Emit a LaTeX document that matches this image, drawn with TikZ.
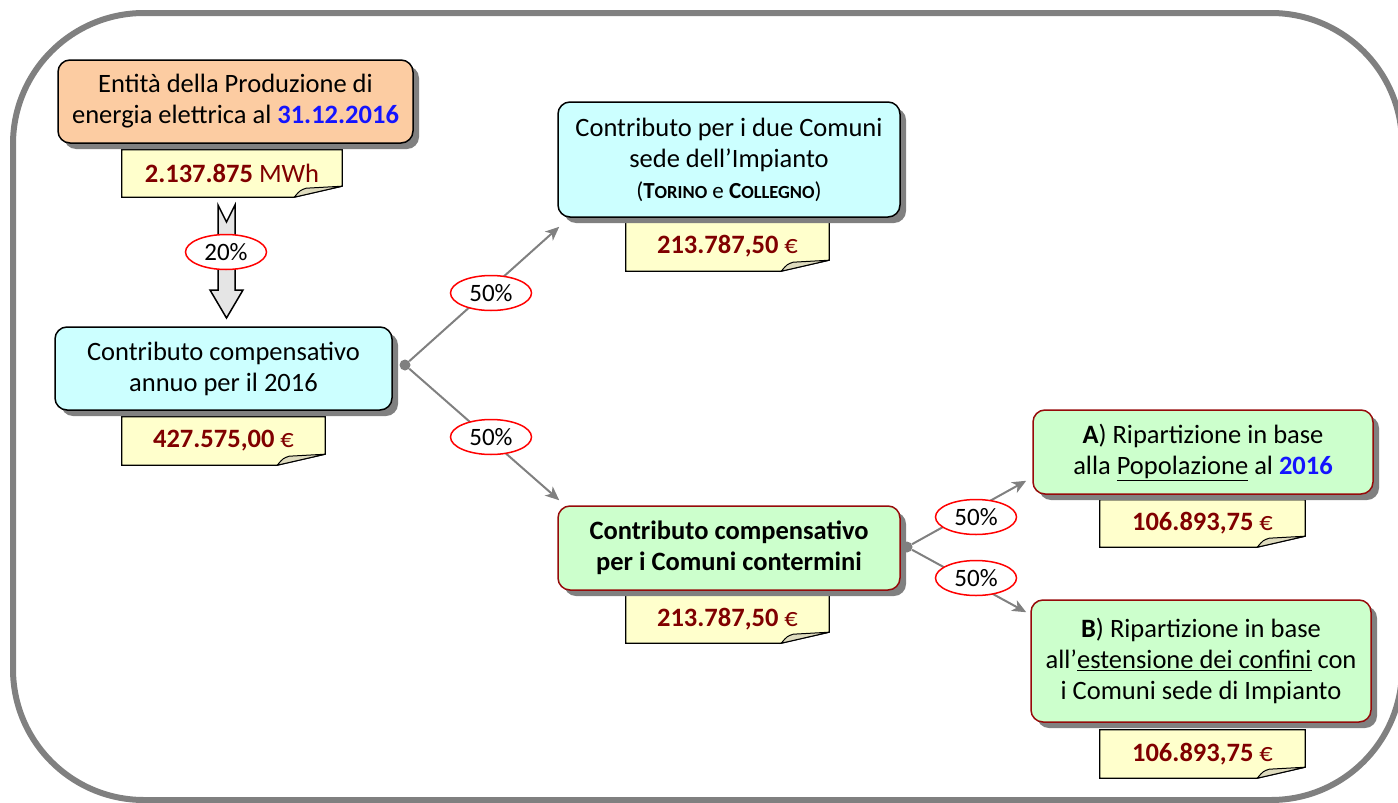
\documentclass[tikz,border=0pt]{standalone}
\usepackage{fontspec}
\setmainfont{Carlito}
\usetikzlibrary{shapes.geometric,shadows,arrows.meta,calc}
\pgfdeclarelayer{background}
\pgfsetlayers{background,main}
\definecolor{arancio}{RGB}{252,204,162}
\definecolor{ciano}{RGB}{204,255,255}
\definecolor{verde}{RGB}{204,255,204}
\definecolor{giallo}{RGB}{255,255,204}
\definecolor{piega}{RGB}{222,219,190}
\definecolor{scuro}{RGB}{128,0,0}
\definecolor{bordeaux}{RGB}{150,10,10}
\definecolor{blu}{RGB}{20,20,255}
\definecolor{grigio}{RGB}{128,128,128}
\tikzset{
  riquadro/.style={rounded corners=12pt, line width=1.5pt, align=center, inner sep=2pt,
    drop shadow={shadow xshift=6pt, shadow yshift=-6pt, fill=grigio, opacity=1}},
  boxA/.style={riquadro, draw=black, fill=arancio},
  boxC/.style={riquadro, draw=black, fill=ciano},
  boxV/.style={riquadro, draw=bordeaux, fill=verde},
  nota/.style={minimum height=48pt, inner sep=0pt, text=scuro},
  perc/.style={ellipse, draw=red, fill=white, line width=1.5pt, minimum width=81pt, minimum height=35pt, inner sep=0pt},
  perno/.style={circle, fill=grigio, minimum size=11pt, inner sep=0pt},
  linea/.style={draw=grigio, line width=2pt, -{Stealth[length=14pt,width=12pt,inset=4pt]}},
}
\begin{document}
\begin{tikzpicture}[x=1pt,y=-1pt,font=\fontsize{26.5}{31}\selectfont]
\useasboundingbox (0,0) rectangle (1398,803);
\draw[draw=grigio, line width=6pt, rounded corners=131pt] (13,13) rectangle (1402,800);
\node[boxA, minimum width=355pt, minimum height=83pt] (prod) at (235.5,101.5) {Entità della Produzione di\\energia elettrica al \textcolor{blu}{\textbf{31.12.2016}}};
\node[nota, minimum width=220pt, minimum height=47pt] (nMwh) at (232,173.5) {\textbf{2.137.875} MWh};
\node[boxC, minimum width=337pt, minimum height=83pt] (annuo) at (223.5,368.5) {Contributo compensativo\\annuo per il 2016};
\node[nota, minimum width=203pt] (nAnnuo) at (223.5,441) {\textbf{427.575,00} €};
\node[boxC, minimum width=342pt, minimum height=115pt] (sede) at (729,159.5) {Contributo per i due Comuni\\sede dell’Impianto\\{\fontsize{23}{29}\selectfont(\textbf{T{\fontsize{18.5}{29}\selectfont ORINO}} e \textbf{C{\fontsize{18.5}{29}\selectfont OLLEGNO}})}};
\node[nota, minimum width=203pt, minimum height=49pt] (nSede) at (727.5,246.5) {\textbf{213.787,50} €};
\node[boxV, minimum width=342pt, minimum height=84pt, font=\fontsize{26.5}{31}\selectfont\bfseries] (cont) at (729,548) {Contributo compensativo\\per i Comuni contermini};
\node[nota, minimum width=203pt] (nCont) at (727.5,619) {\textbf{213.787,50} €};
\node[boxV, minimum width=340pt, minimum height=84pt] (pop) at (1203,452) {\textbf{A}) Ripartizione in base\\alla \underline{Popolazione} al \textcolor{blu}{\textbf{2016}}};
\node[nota, minimum width=205pt, minimum height=47pt] (nPop) at (1202.5,523.5) {\textbf{106.893,75} €};
\node[boxV, minimum width=340pt, minimum height=122pt] (conf) at (1201,661) {\textbf{B}) Ripartizione in base\\all’\underline{estensione dei confini} con\\i Comuni sede di Impianto};
\node[nota, minimum width=205pt] (nConf) at (1202.5,754) {\textbf{106.893,75} €};
\begin{pgfonlayer}{background}
\foreach \n in {nMwh,nAnnuo,nSede,nCont,nPop,nConf}{
  \draw[line width=1.2pt, fill=giallo] (\n.north west) -- (\n.north east) -- ($(\n.south east)+(0,-11)$) -- ($(\n.south east)+(-48,0)$) -- (\n.south west) -- cycle;
  \draw[line width=1pt, fill=piega] ($(\n.south east)+(-48,0)$) -- ($(\n.south east)+(0,-11)$) -- ($(\n.south east)+(-36,-9)$) .. controls ($(\n.south east)+(-42,-7)$) .. cycle;
}
\end{pgfonlayer}
\draw[line width=1.5pt, fill=black!10] (218,205) -- (226.5,222) -- (235,205) -- (235,290) -- (243,290) -- (226.5,318) -- (210,290) -- (218,290) -- cycle;
\node[perc, font=\fontsize{25}{30}\selectfont] (p20) at (226,252) {20\%};
\node[perno] (f1) at (405,365) {};
\node[perno] (f2) at (907,547) {};
\draw[linea] (f1) -- ([xshift=2pt,yshift=-9pt]sede.south west);
\draw[linea] (f1) -- ([xshift=2pt,yshift=5pt]cont.north west);
\draw[linea] (f2) -- ([xshift=-6pt,yshift=14pt]pop.south west);
\draw[linea] (f2) -- ([xshift=-4pt,yshift=-13pt]conf.north west);
\node[perc, font=\fontsize{25}{30}\selectfont] (pA) at (491,293) {50\%};
\node[perc, font=\fontsize{25}{30}\selectfont] (pB) at (491,437) {50\%};
\node[perc, font=\fontsize{25}{30}\selectfont] (pC) at (976,517) {50\%};
\node[perc, font=\fontsize{25}{30}\selectfont] (pD) at (976,578) {50\%};
\end{tikzpicture}
\end{document}
